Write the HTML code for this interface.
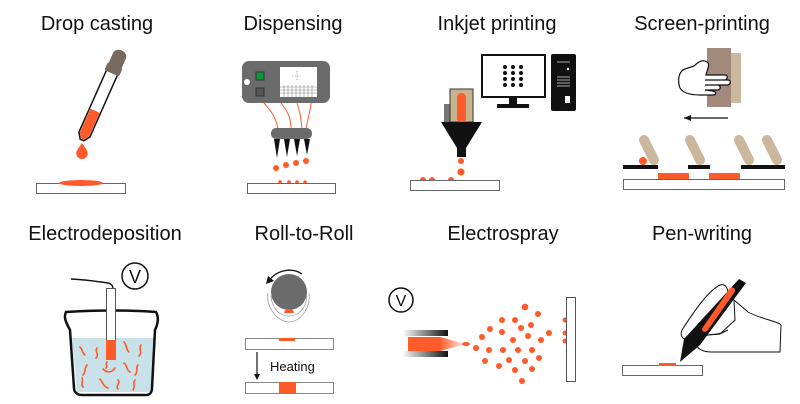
<!DOCTYPE html>
<html><head><meta charset="utf-8"><style>
html,body{margin:0;padding:0;background:#fff;}
svg{display:block}
text{font-family:"Liberation Sans","DejaVu Sans",sans-serif;fill:#111}
</style></head><body>
<svg width="800" height="404" viewBox="0 0 800 404" xmlns="http://www.w3.org/2000/svg">
<defs>
<linearGradient id="nz" x1="0" x2="1" y1="0" y2="0"><stop offset="0" stop-color="#fff"/><stop offset="1" stop-color="#111"/></linearGradient>
<linearGradient id="sp" x1="0" x2="1"><stop offset="0" stop-color="#ff5a2a"/><stop offset="1" stop-color="#ff5a2a" stop-opacity="0.2"/></linearGradient>
</defs>
<g font-size="20" text-anchor="middle">
<text x="97" y="30">Drop casting</text>
<text x="293" y="30">Dispensing</text>
<text x="497" y="30">Inkjet printing</text>
<text x="702" y="30">Screen-printing</text>
<text x="105" y="240">Electrodeposition</text>
<text x="304" y="240">Roll-to-Roll</text>
<text x="503" y="240">Electrospray</text>
<text x="702" y="240">Pen-writing</text>
</g>

<!-- Drop casting -->
<rect x="36.5" y="183.5" width="89" height="10" fill="#fff" stroke="#666"/>
<ellipse cx="81" cy="183" rx="22" ry="3" fill="#ff5a2a"/>
<g transform="rotate(24 82 140)">
<path d="M76 64 H88 V134 L84 140 H80 L76 134Z" fill="#fff" stroke="#111" stroke-width="1.5"/>
<path d="M77 108 H87 V134 L83.5 139 H80.5 L77 134Z" fill="#ff5a2a"/>
<rect x="74" y="58" width="16" height="9" rx="2" fill="#7a695d"/>
<path d="M75 60 V48 C75 40 89 40 89 48 V60Z" fill="#7a695d"/>
</g>
<path d="M82 143 C77 150 75 153 77 156 C79 160 85 160 87 156 C89 153 87 150 82 143Z" fill="#ff5a2a"/>

<!-- Dispensing -->
<rect x="242" y="61" width="88" height="42" rx="7" fill="#6b6b6b"/>
<rect x="256" y="72" width="8" height="8" fill="#0a9a3c" stroke="#333"/>
<rect x="256" y="88" width="8" height="8" fill="#555" stroke="#333"/>
<circle cx="247" cy="82" r="3" fill="#fff"/>
<rect x="280" y="67" width="37" height="30" fill="#fff"/>
<g stroke="#888" stroke-width="0.6">
<path d="M280 87H317M280 90H317M280 93H317M284 85V97M288 85V97M292 85V97M296 85V97M300 85V97M304 85V97M308 85V97M312 85V97"/>
<path d="M297 71V80M292 76H302" stroke-dasharray="1.5 1"/>
</g>
<g stroke="#ff5a2a" fill="none" stroke-width="1">
<path d="M264 103 C272 112 276 118 278 129"/><path d="M281 103 C288 112 291 118 291 129"/>
<path d="M297 103 C300 112 301 118 302 129"/><path d="M311 103 C310 112 308 118 306 129"/>
</g>
<rect x="271" y="128" width="41" height="11" rx="5" fill="#6b6b6b"/>
<g fill="#111"><path d="M274 139H280L277 158Z"/><path d="M284 139H290L287 157Z"/><path d="M294 139H300L297 156Z"/><path d="M304 139H310L307 155Z"/></g>
<g fill="#ff5a2a"><circle cx="276" cy="168" r="3"/><circle cx="286" cy="165" r="3"/><circle cx="296" cy="163" r="3"/><circle cx="306" cy="161" r="3"/>
<circle cx="280" cy="182" r="1.8"/><circle cx="289" cy="182" r="1.8"/><circle cx="297" cy="182" r="1.8"/><circle cx="305" cy="182" r="1.8"/></g>
<rect x="247.5" y="183.5" width="88" height="10" fill="#fff" stroke="#666"/>

<!-- Inkjet -->
<rect x="482" y="55" width="63" height="42" fill="#fff" stroke="#111" stroke-width="2"/>
<rect x="509" y="98" width="8" height="6" fill="#111"/>
<rect x="497" y="104" width="32" height="4" fill="#111"/>
<g fill="#111"><circle cx="505" cy="67" r="2"/><circle cx="513" cy="67" r="2"/><circle cx="521" cy="67" r="2"/>
<circle cx="505" cy="73" r="2"/><circle cx="513" cy="73" r="2"/><circle cx="521" cy="73" r="2"/>
<circle cx="505" cy="79" r="2"/><circle cx="513" cy="79" r="2"/><circle cx="521" cy="79" r="2"/>
<circle cx="505" cy="85" r="2"/><circle cx="513" cy="85" r="2"/><circle cx="521" cy="85" r="2"/></g>
<rect x="551" y="54" width="25" height="57" rx="2" fill="#111"/>
<g stroke="#aaa" stroke-width="1"><path d="M557 62H570M557 77H570M557 80H570M557 83H570M557 86H570"/></g>
<circle cx="568" cy="69" r="1.2" fill="#fff"/>
<rect x="565" y="96" width="5" height="7" fill="#fff"/>
<rect x="444" y="104" width="6" height="18" fill="#777"/>
<rect x="450" y="89" width="23" height="33" fill="#c9b38f" stroke="#333"/>
<rect x="457" y="93" width="9" height="30" rx="4.5" fill="#ff5a2a"/>
<path d="M441 122H482L466 148V157H457V148Z" fill="#111"/>
<g fill="#ff5a2a"><circle cx="461" cy="161" r="3"/><circle cx="461" cy="172" r="3.6"/>
<circle cx="423" cy="180" r="3"/><circle cx="432" cy="180" r="3"/><circle cx="451" cy="180" r="3"/></g>
<rect x="410.5" y="180.5" width="89" height="10" fill="#fff" stroke="#666"/>

<!-- Screen printing -->
<rect x="731" y="53" width="10" height="50" fill="#cbb89c"/>
<rect x="707" y="48" width="24" height="59" fill="#a3887c"/>
<path d="M707 62 C703 59 698 62 694 66 L685 69 C679 71 677 80 680 88 C683 93 690 95 700 95 L713 95 C716 95 717 92 713 91 L705 90 L718 90 C721 89 721 86 718 85 L705 85 L728 85 C731 84 731 80 728 80 L705 80 L725 80 C728 79 728 75 725 75 L706 75 L708 68 C709 65 709 63 707 62Z" fill="#fff" stroke="#111" stroke-width="1.2"/>
<path d="M684 118H728" stroke="#111" stroke-width="1.3"/><path d="M684 118L691 115V121Z" fill="#111"/>
<g stroke="#cbb89c" stroke-width="10" stroke-linecap="round">
<path d="M644 140L654 160"/><path d="M690 140L700 160"/><path d="M739 140L749 160"/><path d="M767 140L777 160"/></g>
<circle cx="643" cy="161" r="4" fill="#ff5a2a"/>
<g fill="#111"><rect x="623" y="165" width="35" height="4"/><rect x="688" y="165" width="22" height="4"/><rect x="741" y="165" width="44" height="4"/></g>
<g fill="#ff5a2a"><rect x="658" y="173" width="31" height="6"/><rect x="709" y="173" width="31" height="6"/></g>
<rect x="623.5" y="179.5" width="161" height="10" fill="#fff" stroke="#666"/>

<!-- Electrodeposition -->
<circle cx="135" cy="276" r="13" fill="#fff" stroke="#111" stroke-width="1.5"/>
<text x="135" y="283" font-size="18" text-anchor="middle">V</text>
<path d="M71 279 C90 280 100 282 108 283 C112 284 113 286 113 289" fill="none" stroke="#111" stroke-width="1.5"/>
<path d="M72 338 L155 338 L151 392 L77 392Z" fill="#c9e2ea"/>
<path d="M66 312 C63 318 67 324 70 330 L74 388 C74 392 77 395 82 395 L146 395 C150 395 152 392 152 388 L155 330 C158 324 159 317 156 312 C130 310 95 310 66 312Z" fill="none" stroke="#111" stroke-width="2.5"/>
<rect x="106.5" y="288.5" width="9" height="70" fill="#fff" stroke="#555"/>
<rect x="106" y="340" width="10" height="20" fill="#ff5a2a"/>
<g stroke="#ff5a2a" stroke-width="1.6" fill="none" stroke-linecap="round">
<path d="M80 347 C83 350 82 353 85 355"/><path d="M97 348 C94 352 100 354 96 358"/><path d="M124 342 C127 345 126 350 129 352"/>
<path d="M141 345 C138 349 143 352 139 356"/><path d="M87 365 C84 368 86 372 83 375"/><path d="M103 369 C107 373 112 373 115 368"/>
<path d="M124 363 C128 366 126 370 130 372"/><path d="M138 365 C135 368 139 371 135 375"/><path d="M82 378 C84 381 80 384 83 387"/>
<path d="M100 379 C103 383 104 387 108 388"/><path d="M118 380 C121 383 115 386 118 389"/><path d="M135 380 C132 383 136 386 133 390"/>
<path d="M107 362 C105 364 108 366 106 368"/></g>

<!-- Roll to Roll -->
<path d="M268 293 C266 305 275 321 289 322 C303 321 311 305 309 293" fill="none" stroke="#999" stroke-width="0.7"/>
<path d="M271 296 C272 309 280 316 289 316 C298 316 306 309 307 296" fill="none" stroke="#999" stroke-width="0.7"/>
<circle cx="289" cy="292" r="18" fill="#6b6b6b"/>
<path d="M284 313 A5 4 0 0 1 294 313Z" fill="#ff5a2a"/>
<path d="M302 274 C292 267 276 270 269 281" fill="none" stroke="#111" stroke-width="1.3"/>
<path d="M266 284L268 276L274 281Z" fill="#111"/>
<rect x="245.5" y="338.5" width="88" height="11" fill="#fff" stroke="#888"/>
<rect x="279" y="338" width="16" height="3" fill="#ff5a2a"/>
<path d="M257 352V377" stroke="#111" stroke-width="1.2"/><path d="M254 374L257 380L260 374Z" fill="#111"/>
<text x="270" y="371" font-size="13" fill="#222">Heating</text>
<rect x="245.5" y="382.5" width="88" height="11" fill="#fff" stroke="#888"/>
<rect x="279" y="382" width="17" height="12" fill="#ff5a2a"/>

<!-- Electrospray -->
<circle cx="401" cy="300" r="12" fill="#fff" stroke="#111" stroke-width="1.5"/>
<text x="401" y="306" font-size="16" text-anchor="middle">V</text>
<rect x="402" y="330" width="46" height="6" fill="url(#nz)"/>
<rect x="402" y="351" width="46" height="6" fill="url(#nz)"/>
<rect x="408" y="337" width="32" height="14" fill="#ff5a2a"/>
<path d="M440 337 L462 343 L462 345 L440 351Z" fill="url(#sp)"/>
<ellipse cx="466" cy="344" rx="4" ry="2" fill="#ff5a2a"/>
<g fill="#ff5a2a">
<circle cx="525" cy="307" r="3.3"/><circle cx="538" cy="314" r="3"/><circle cx="502" cy="320" r="3"/><circle cx="515" cy="320" r="3"/><circle cx="531" cy="325" r="3"/>
<circle cx="490" cy="329" r="3"/><circle cx="502" cy="332" r="3"/><circle cx="521" cy="328" r="3"/><circle cx="549" cy="333" r="3"/><circle cx="482" cy="337" r="3"/>
<circle cx="528" cy="336" r="3"/><circle cx="513" cy="340" r="3"/><circle cx="541" cy="340" r="3"/><circle cx="476" cy="348" r="3"/><circle cx="489" cy="350" r="3"/>
<circle cx="503" cy="350" r="3"/><circle cx="518" cy="350" r="3"/><circle cx="532" cy="350" r="3"/><circle cx="485" cy="361" r="3"/><circle cx="509" cy="360" r="3"/>
<circle cx="525" cy="361" r="3"/><circle cx="539" cy="358" r="3"/><circle cx="499" cy="366" r="3"/><circle cx="515" cy="370" r="3"/><circle cx="532" cy="369" r="3"/>
<circle cx="522" cy="381" r="3"/><circle cx="565" cy="320" r="2.5"/><circle cx="565" cy="333" r="2.5"/><circle cx="565" cy="341" r="2.5"/></g>
<rect x="566.5" y="297.5" width="9" height="84" fill="#fff" stroke="#555"/>

<!-- Pen writing -->
<rect x="622.5" y="365.5" width="80" height="10" fill="#fff" stroke="#666"/>
<rect x="659" y="363" width="17" height="3" fill="#ff5a2a"/>
<path d="M720 285 C710 290 698 305 682 330 C680 335 682 339 686 339 L694 339 L727 300 C730 290 726 283 720 285Z" fill="#fff" stroke="#111" stroke-width="1"/>
<path d="M734 300 L748 312 C758 318 780 322 781 325 L780 352 L711 352 C700 352 694 346 696 340 C699 334 715 335 720 334 L735 320Z" fill="#fff" stroke="#111" stroke-width="1"/>
<path d="M739 279 L746 283 L700 345 L680 362 L684 339Z" fill="#111"/>
<path d="M730 288 C733 286 737 289 734 293 L708 330 C705 334 700 331 703 327Z" fill="#ff5a2a"/>
<path d="M696 340 C699 334 715 335 722 333 L728 330" fill="none" stroke="#111" stroke-width="1"/>
</svg>
</body></html>
